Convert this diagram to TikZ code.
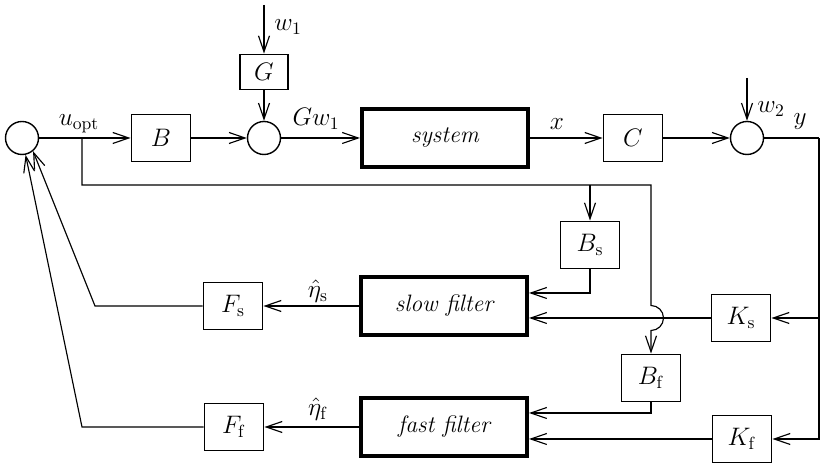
\documentclass[tikz,border=0pt]{standalone}
\usepackage{amsmath}
\usepackage{tikz}
\usetikzlibrary{arrows.meta,positioning,calc}

\begin{document}
\begin{tikzpicture}[
  blk/.style={draw,line width=1.1pt,minimum width=1.18cm,minimum height=0.94cm,inner sep=0pt,font=\fontsize{14.5}{17}\selectfont},
  big/.style={draw,line width=2.3pt,minimum width=3.32cm,minimum height=1.16cm,font=\fontsize{13.5}{16}\selectfont\itshape},
  sm/.style={circle,draw,line width=0.8pt,minimum size=0.66cm,inner sep=0pt},
  ed/.style={line width=0.65pt},
  ar/.style={ed,-{Straight Barb[length=3.2mm,width=2.2mm]}},
  lb/.style={font=\fontsize{14}{16}\selectfont,inner sep=0pt}
]
\useasboundingbox (0,0) rectangle (16.4,9.28);
% ---- top row: plant with noise inputs ----
\node[sm]  (lsum) at (0.44,6.52)  {};
\node[blk] (B)    at (3.22,6.52)  {$B$};
\node[sm]  (sum2) at (5.28,6.52)  {};
\node[blk,minimum width=0.96cm,minimum height=0.70cm] (G) at (5.28,7.84) {$G$};
\node[big] (sys)  at (8.90,6.52)  {system};
\node[blk] (C)    at (12.66,6.52) {$C$};
\node[sm]  (sum3) at (14.94,6.52) {};
\coordinate (w1in) at (5.28,9.18);
\coordinate (w2in) at (14.94,7.72);
\coordinate (u0)   at (1.64,6.52);
\coordinate (yr)   at (16.38,6.52);
\draw[ed](lsum)--(u0); \draw[ar](u0)--(B); \draw[ar](B)--(sum2);
\draw[ar](w1in)--(G); \draw[ar](G)--(sum2);
\draw[ar](sum2)--(sys); \draw[ar](sys)--(C); \draw[ar](C)--(sum3);
\draw[ar](w2in)--(sum3); \draw[ed](sum3)--(yr);
\node[lb] (uopt) at (1.58,6.80) {$u_{\mathrm{opt}}$};
\node[lb] (w1)   at (5.76,8.74) {$w_1$};
\node[lb] (gw1)  at (6.32,6.90) {$Gw_1$};
\node[lb] (xl)   at (11.14,6.80) {$x$};
\node[lb] (w2)   at (15.42,7.10) {$w_2$};
\node[lb] (yl)   at (16.00,6.84) {$y$};
% ---- middle and bottom rows: slow and fast filters ----
\node[blk] (Bs)   at (11.80,4.38) {$B_{\mathrm{s}}$};
\node[blk] (Bf)   at (13.02,1.72) {$B_{\mathrm{f}}$};
\node[blk] (Ks)   at (14.82,2.92) {$K_{\mathrm{s}}$};
\node[blk] (Kf)   at (14.84,0.50) {$K_{\mathrm{f}}$};
\node[big] (slow) at (8.88,3.16)  {slow filter};
\node[big] (fast) at (8.88,0.74)  {fast filter};
\node[blk] (Fs)   at (4.66,3.16)  {$F_{\mathrm{s}}$};
\node[blk] (Ff)   at (4.68,0.74)  {$F_{\mathrm{f}}$};
% u_opt fed to B_s and (hopping the K_s line) to B_f
\draw[ar](u0) |- (13.02,5.58) -- (13.02,3.17)
  arc[start angle=90,end angle=-90,radius=0.25] -- (Bf.north);
\draw[ar](11.80,5.58)--(Bs.north);
\draw[ar](Bs.south) |- ($(slow.east)+(0,0.26)$);
\draw[ar](Bf.south) |- ($(fast.east)+(0,0.28)$);
% measurement y into the gains
\draw[ar](yr) |- (Kf.east);
\draw[ar](yr |- Ks.east)--(Ks.east);
\draw[ar](Ks.west)--(slow.east |- Ks.west);
\draw[ar](Kf.west)--(fast.east |- Kf.west);
% estimates back to the control sum
\draw[ar](slow.west)--(Fs.east);
\draw[ar](fast.west)--(Ff.east);
\draw[ar](Fs.west)--(1.90,3.16)--(lsum.-50);
\draw[ar](Ff.west)--(1.64,0.74)--(lsum.-78);
\node[lb] (etas) at (6.36,3.46) {$\hat{\eta}_{\mathrm{s}}$};
\node[lb] (etaf) at (6.36,1.10) {$\hat{\eta}_{\mathrm{f}}$};
\end{tikzpicture}
\end{document}
